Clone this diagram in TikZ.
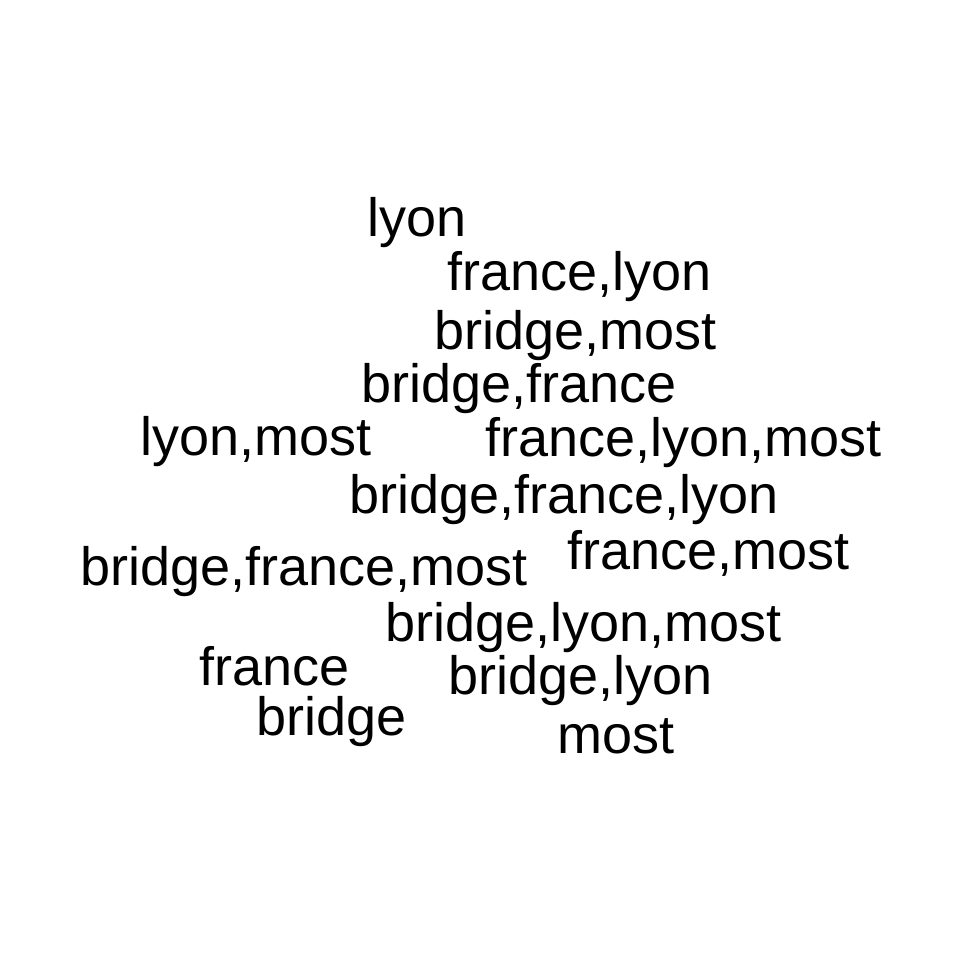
\documentclass[tikz,border=0pt]{standalone}
\usepackage{fontspec}
\setmainfont{Liberation Sans}
\begin{document}
\begin{tikzpicture}[x=1pt,y=-1pt,
  word/.style={anchor=base west,inner sep=0pt,font=\fontsize{54}{60}\selectfont,text=black}]
\useasboundingbox[fill=white] (0,0) rectangle (960,960);
\node[word] (w1) at (367,236.7) {lyon};
\node[word] (w2) at (447,290) {france,lyon};
\node[word] (w3) at (434,349.3) {bridge,most};
\node[word] (w4) at (361,402.7) {bridge,france};
\node[word] (w5) at (140,455) {lyon,most};
\node[word] (w6) at (485,456.7) {france,lyon,most};
\node[word] (w7) at (349,513.3) {bridge,france,lyon};
\node[word] (w8) at (567,569.3) {france,most};
\node[word] (w9) at (80,585) {bridge,france,most};
\node[word] (w10) at (385,641.7) {bridge,lyon,most};
\node[word] (w11) at (199,685) {france};
\node[word] (w12) at (448,694) {bridge,lyon};
\node[word] (w13) at (256,735) {bridge};
\node[word] (w14) at (557,753.3) {most};
\end{tikzpicture}
\end{document}
